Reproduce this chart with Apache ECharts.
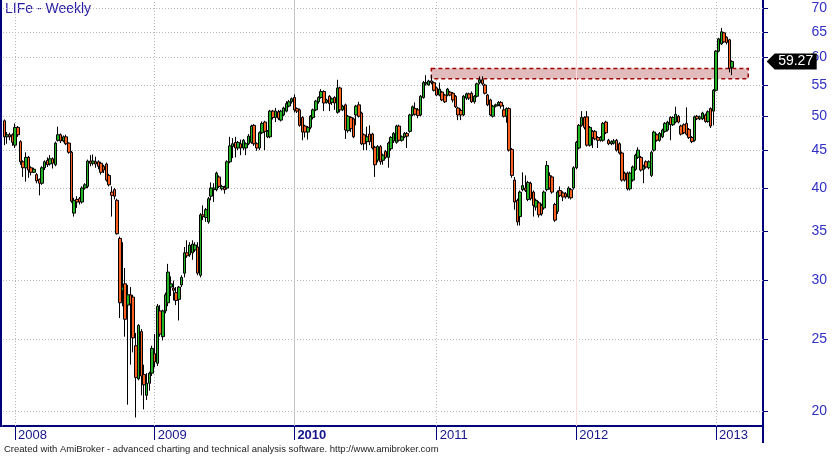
<!DOCTYPE html>
<html><head><meta charset="utf-8">
<script src="https://cdn.jsdelivr.net/npm/echarts@6/dist/echarts.min.js"></script>
<style>html,body{margin:0;padding:0;background:#fff}#c{width:832px;height:456px}</style>
</head><body><div id="c"></div>
<script>
const chartTitle = 'LIFe - Weekly';
const footerText = 'Created with AmiBroker - advanced charting and technical analysis software. http://www.amibroker.com';
const firstWeek = '2007-12-07';
const totalSlots = 283;

const openP = [
49.3,46.9,47.2,47.2,45.7,48.3,46.2,43.4,42.6,44.0,
42.6,42.0,41.7,41.1,40.6,42.6,43.6,43.1,43.8,43.0,
46.4,47.2,46.3,46.9,46.0,44.7,37.0,38.6,38.7,38.3,
40.0,40.2,43.5,43.2,43.4,43.4,43.2,42.8,43.1,41.6,
39.5,39.8,38.5,34.2,29.1,29.7,27.8,28.7,28.5,24.5,
22.1,25.6,22.4,21.0,21.8,22.5,23.9,23.2,27.3,25.2,
27.3,28.0,29.4,29.3,28.9,28.3,29.6,30.7,32.7,32.5,
32.7,33.0,33.3,30.5,36.8,36.5,36.0,39.0,39.8,39.8,
41.4,39.9,40.1,40.0,43.4,45.5,46.1,45.3,45.9,45.3,
45.3,45.9,46.1,48.6,45.9,45.3,47.5,49.1,46.9,46.9,
50.8,49.8,50.7,49.4,50.2,50.8,51.6,52.3,53.0,51.2,
51.0,49.8,48.5,47.6,48.3,49.8,51.0,52.3,53.0,54.0,
52.2,53.2,52.2,53.0,50.6,54.6,51.0,51.8,47.8,49.8,
49.6,50.2,51.8,50.5,47.2,46.2,47.3,47.3,45.4,43.6,
45.5,43.6,44.8,44.0,45.2,46.3,46.1,48.5,46.4,46.9,
47.4,47.7,50.2,51.2,51.0,50.2,53.0,55.3,55.1,55.8,
55.5,54.6,53.4,53.9,53.4,53.4,53.9,53.7,53.2,51.3,
50.9,50.2,52.9,53.6,53.7,52.3,53.2,55.5,56.0,55.1,
53.4,52.6,50.0,51.6,51.8,52.2,51.0,50.0,51.2,45.1,
41.0,38.5,36.6,39.8,40.0,38.6,40.6,39.5,37.7,38.2,
37.9,37.6,39.8,41.6,41.4,38.0,37.2,39.7,39.4,39.3,
38.9,39.8,40.0,42.6,45.3,48.6,49.8,49.9,45.7,47.7,
47.7,46.8,46.4,46.4,49.1,46.4,45.9,46.0,46.4,45.9,
44.6,41.9,41.9,39.9,41.0,42.4,44.0,44.0,42.4,43.4,
42.6,41.6,45.0,47.2,46.4,46.9,47.7,47.9,49.8,48.7,
49.1,50.0,48.5,48.7,48.9,48.0,46.8,46.4,50.0,49.6,
49.6,50.2,49.2,51.2,50.8,54.2,61.2,62.6,64.8,63.9,
63.4,58.2];

const closeP = [
46.9,47.2,46.9,46.1,48.3,47.2,43.4,42.6,44.0,42.3,
42.0,42.4,40.9,40.6,42.6,43.4,43.0,43.8,43.2,46.0,
47.2,46.3,46.9,45.9,44.7,38.4,38.5,38.3,38.3,40.0,
40.4,43.5,43.2,43.5,43.1,42.8,42.0,42.3,41.0,40.4,
39.1,39.0,34.7,28.0,29.4,26.6,28.7,27.9,25.1,22.2,
26.1,22.3,21.7,21.8,22.5,24.3,23.3,27.7,25.4,27.3,
28.7,30.8,29.7,29.1,28.2,29.4,30.3,32.7,32.4,33.5,
33.6,33.5,30.7,36.8,36.6,37.4,38.7,40.0,40.0,41.9,
40.2,40.2,39.8,43.4,45.6,45.9,45.3,46.1,45.3,46.4,
45.9,47.0,48.5,45.9,45.3,47.5,48.9,47.7,47.7,50.8,
49.8,50.8,49.7,50.8,51.3,52.0,52.3,52.8,51.0,50.8,
48.6,47.6,47.6,48.3,50.0,51.0,52.4,53.0,54.0,52.1,
52.6,52.0,52.8,52.1,54.6,51.0,51.6,47.9,50.0,48.1,
46.9,51.6,50.0,45.9,45.9,46.9,46.2,45.3,43.0,45.5,
43.4,44.3,44.0,46.0,46.8,47.4,48.5,46.4,46.9,47.4,
47.0,50.2,51.5,50.3,50.1,53.2,55.5,55.5,55.8,55.5,
54.2,53.4,54.4,52.6,52.3,54.4,53.4,52.6,51.5,50.2,
50.2,53.2,53.6,52.9,52.3,53.2,55.3,56.0,55.3,53.7,
51.8,50.2,51.6,51.8,52.2,51.6,50.0,51.2,45.0,41.6,
38.3,36.0,39.5,40.3,39.7,40.7,38.7,37.9,38.5,36.8,
36.9,39.5,42.9,40.0,39.5,36.2,39.5,39.1,38.9,38.9,
40.0,38.8,42.6,46.1,48.6,49.8,48.3,45.7,48.3,46.8,
46.6,46.4,46.8,48.9,47.5,45.9,46.2,46.3,45.0,44.6,
41.0,41.0,39.9,41.9,42.7,44.3,45.0,42.3,42.8,42.7,
43.4,44.7,47.6,46.4,47.4,47.9,48.9,49.1,48.7,49.8,
50.3,49.1,47.3,47.5,47.3,46.8,46.2,49.9,49.6,49.9,
50.5,49.2,50.7,48.5,54.2,61.2,63.6,65.0,63.0,62.9,
58.0,59.27];

const lowP = [
45.7,45.9,46.4,45.6,45.3,46.9,43.0,41.4,40.8,41.3,
41.6,41.9,40.6,39.1,40.4,42.3,42.7,42.9,42.5,42.8,
46.2,46.0,46.1,45.7,44.5,38.2,36.6,37.6,38.0,38.1,
39.8,40.0,42.8,42.9,42.6,42.4,41.7,41.9,40.8,40.2,
36.6,38.6,34.6,26.7,27.7,25.2,20.4,23.1,24.0,19.6,
22.0,21.0,20.1,20.7,21.3,22.3,22.9,23.0,25.2,24.9,
27.1,27.7,28.6,28.2,27.8,26.5,29.4,30.3,32.2,32.3,
32.0,32.8,30.5,30.3,36.2,36.0,35.8,38.5,38.3,39.6,
40.0,39.7,39.3,39.8,43.2,43.9,44.0,45.0,44.3,45.0,
44.3,45.7,45.9,45.6,44.9,45.0,47.3,45.0,46.7,46.7,
49.5,49.1,49.4,49.2,50.0,50.6,51.4,52.0,50.6,50.5,
48.4,46.4,46.8,46.5,48.0,49.5,50.8,52.0,52.8,50.8,
52.0,50.8,51.8,51.0,50.4,50.6,50.8,46.6,47.5,47.6,
46.7,48.6,49.8,45.7,45.0,45.0,45.7,45.1,41.4,43.3,
43.0,43.0,43.8,42.6,44.9,46.0,45.9,46.2,46.2,46.7,
45.3,47.5,50.0,50.1,49.7,50.0,52.8,55.0,55.0,55.2,
54.0,53.2,53.2,52.4,52.1,53.2,53.2,52.2,51.3,49.4,
49.4,50.0,52.6,52.6,52.1,52.0,53.0,55.2,55.0,53.5,
51.6,50.0,49.8,51.4,51.6,51.2,49.8,49.0,44.8,41.3,
37.4,35.6,35.6,39.6,39.5,38.4,38.5,36.6,37.3,36.5,
36.7,37.4,39.6,39.8,39.3,36.0,36.9,38.9,38.4,38.7,
38.7,38.6,39.8,42.4,45.1,48.4,48.0,45.5,45.5,45.3,
46.4,45.3,46.2,46.2,47.3,45.7,45.7,45.8,44.8,44.4,
40.8,40.8,39.7,39.7,40.8,42.2,43.8,42.1,40.6,42.5,
42.4,41.4,44.8,46.2,46.2,46.7,47.5,47.7,46.4,48.5,
48.9,48.9,47.1,47.3,47.1,46.6,46.0,46.2,49.4,49.4,
49.4,49.0,49.0,48.2,48.6,54.0,61.0,62.4,62.8,62.5,
57.3,56.8];

const highP = [
49.5,47.6,47.5,47.4,48.9,48.5,46.4,43.6,44.7,44.2,
42.8,42.6,41.9,41.2,42.8,43.6,44.0,44.3,44.0,46.2,
48.4,47.4,47.1,47.2,46.1,44.9,38.8,39.0,38.9,40.2,
40.6,43.7,44.3,44.4,44.1,43.6,43.4,43.0,43.3,41.8,
40.2,40.0,38.7,34.4,33.8,31.2,29.6,29.4,28.7,25.5,
26.2,25.8,23.1,22.5,22.6,24.5,25.4,27.9,27.8,27.4,
28.9,31.6,30.4,30.0,29.4,29.5,30.5,33.3,34.0,33.8,
34.0,33.8,33.8,37.0,37.9,37.6,38.9,40.7,40.6,42.1,
41.6,40.4,40.3,43.6,46.9,46.7,46.9,46.3,46.5,46.6,
46.1,47.3,48.7,48.8,46.1,47.7,49.2,49.3,47.9,51.0,
51.0,51.3,51.0,51.0,51.5,52.4,52.6,53.0,53.5,51.4,
51.2,50.0,48.7,48.5,50.2,51.2,52.6,53.2,54.4,54.2,
52.8,53.4,53.0,53.2,56.0,54.8,51.8,52.0,50.2,50.0,
49.8,51.8,52.3,50.7,47.4,48.4,48.6,47.5,45.6,45.7,
45.7,44.5,45.0,46.2,47.0,47.6,48.7,48.7,47.1,47.6,
47.6,50.4,51.7,52.2,51.3,53.4,55.8,56.8,56.0,56.8,
55.7,54.8,55.5,54.1,53.6,54.6,54.1,53.9,53.4,51.5,
51.2,53.4,53.8,53.8,54.0,53.4,55.5,56.6,56.6,55.3,
53.6,52.8,51.8,52.0,52.4,52.4,51.8,51.4,51.4,45.3,
41.4,38.7,39.7,42.0,41.6,40.9,40.8,39.7,38.7,38.4,
38.1,39.7,43.5,42.0,41.6,38.2,39.7,40.2,39.6,39.5,
40.2,40.0,42.8,46.3,48.8,50.8,50.0,50.8,48.5,47.9,
47.9,47.0,47.0,49.1,49.3,46.6,46.4,46.6,46.6,46.1,
44.8,42.1,42.1,42.1,42.9,44.5,45.4,44.2,43.0,43.6,
43.6,44.9,47.8,47.4,47.6,48.1,49.1,49.3,50.0,50.0,
51.5,50.2,48.7,48.9,51.4,48.2,47.0,50.1,50.2,50.1,
50.7,50.4,50.9,51.4,54.4,61.4,63.8,65.8,65.0,64.1,
63.6,59.5];

const yTicks = [20,25,30,35,40,45,50,55,60,65,70];
const yMin = 19.09, yMax = 71.76;
const zoneTop = 58.0, zoneBottom = 56.2;
const zoneStartIdx = 159, zoneEndIdx = 277;

if (openP.length !== closeP.length || openP.length !== lowP.length || openP.length !== highP.length) {
  throw new Error('len mismatch ' + openP.length + ' ' + closeP.length + ' ' + lowP.length + ' ' + highP.length);
}
const lastClose = closeP[closeP.length - 1];

const cats = [];
const d0 = new Date(firstWeek + 'T00:00:00Z');
for (let i = 0; i < totalSlots; i++) {
  cats.push(new Date(d0.getTime() + i * 7 * 86400000).toISOString().slice(0, 10));
}
const yearStart = {};
for (let i = 1; i < cats.length; i++) {
  if (cats[i].slice(0, 4) !== cats[i - 1].slice(0, 4)) yearStart[i] = cats[i].slice(0, 4);
}
const candleData = openP.map((o, i) => [o, closeP[i], lowP[i], highP[i]]);

const dotted = { color: '#b8b8b8', type: [1, 2], width: 1 };
const yearLineStyle = (y) => y === '2010' ? { color: '#c4c4c4', type: 'solid', width: 1 }
  : y === '2012' ? { color: '#ffdcdc', type: 'solid', width: 1 } : dotted;

const markLines = [];
yTicks.forEach(v => markLines.push({ yAxis: v, lineStyle: dotted }));
Object.keys(yearStart).forEach(i => markLines.push({ xAxis: cats[+i], lineStyle: yearLineStyle(yearStart[i]) }));

const navy = '#00007a';
const chart = echarts.init(document.getElementById('c'));
chart.setOption({
  animation: false,
  backgroundColor: '#fff',
  grid: { left: 3, right: 69, top: 0, bottom: 30 },
  xAxis: {
    type: 'category', data: cats, boundaryGap: true,
    axisLine: { lineStyle: { color: navy, width: 2 } },
    axisTick: { show: true, alignWithLabel: true, interval: (i) => yearStart[i] !== undefined, length: 14, lineStyle: { color: navy, width: 1 } },
    axisLabel: {
      interval: (i) => yearStart[i] !== undefined,
      formatter: (v) => { const y = v.slice(0, 4); return y === '2010' ? '{b|' + y + '}' : y; },
      align: 'left', padding: [0, 0, 0, 3], margin: 3,
      color: '#14148c', fontSize: 13, fontFamily: 'Liberation Sans, Arial',
      rich: { b: { fontWeight: 'bold', color: '#14148c', fontSize: 13, fontFamily: 'Liberation Sans, Arial' } }
    },
    splitLine: { show: false }
  },
  yAxis: {
    type: 'log', logBase: 10, min: yMin, max: yMax, position: 'right',
    axisLine: { show: true, lineStyle: { color: navy, width: 2 } },
    axisTick: { show: true, customValues: yTicks, length: 5, lineStyle: { color: navy } },
    axisLabel: { customValues: yTicks, align: 'right', margin: 64, color: '#3030c4', fontSize: 14, fontFamily: 'Liberation Sans, Arial' },
    splitLine: { show: false }
  },
  series: [{
    type: 'candlestick',
    data: candleData,
    barWidth: 3,
    itemStyle: { color: '#22b422', color0: '#ff6020', borderColor: '#000', borderColor0: '#000', borderWidth: 1 },
    markLine: { silent: true, symbol: 'none', z: 1, label: { show: false }, data: markLines },
    markArea: {
      silent: true, z: 1,
      itemStyle: { color: '#e2bcbc', borderColor: '#a00000', borderWidth: 1.5, borderType: [4, 3] },
      data: [[{ xAxis: cats[zoneStartIdx], yAxis: zoneTop }, { xAxis: cats[zoneEndIdx], yAxis: zoneBottom }]]
    },
    markPoint: {
      silent: true,
      symbol: 'path://M0,8L8,0L50,0L50,16L8,16Z',
      symbolSize: [50, 16], symbolOffset: [30, 0],
      itemStyle: { color: '#000' },
      label: { show: true, position: 'inside', offset: [4, 0], color: '#fff', fontSize: 14, fontFamily: 'Liberation Sans, Arial', formatter: () => lastClose.toFixed(2) },
      data: [{ coord: [cats[totalSlots - 1], lastClose] }]
    }
  }],
  graphic: [
    { type: 'rect', left: 0, top: 0, shape: { width: 2, height: 427 }, style: { fill: navy }, silent: true },
    { type: 'line', shape: { x1: 763, y1: 426, x2: 763, y2: 443 }, style: { stroke: navy, lineWidth: 2 }, silent: true },
    { type: 'text', left: 5, top: 2, style: { text: chartTitle, fill: '#2a1ea6', font: '14px "Liberation Sans", Arial' } },
    { type: 'text', left: 4, top: 444, style: { text: footerText, fill: '#222', font: '9.5px "Liberation Sans Narrow", "Liberation Sans", Arial' } }
  ]
});
</script>
</body></html>
